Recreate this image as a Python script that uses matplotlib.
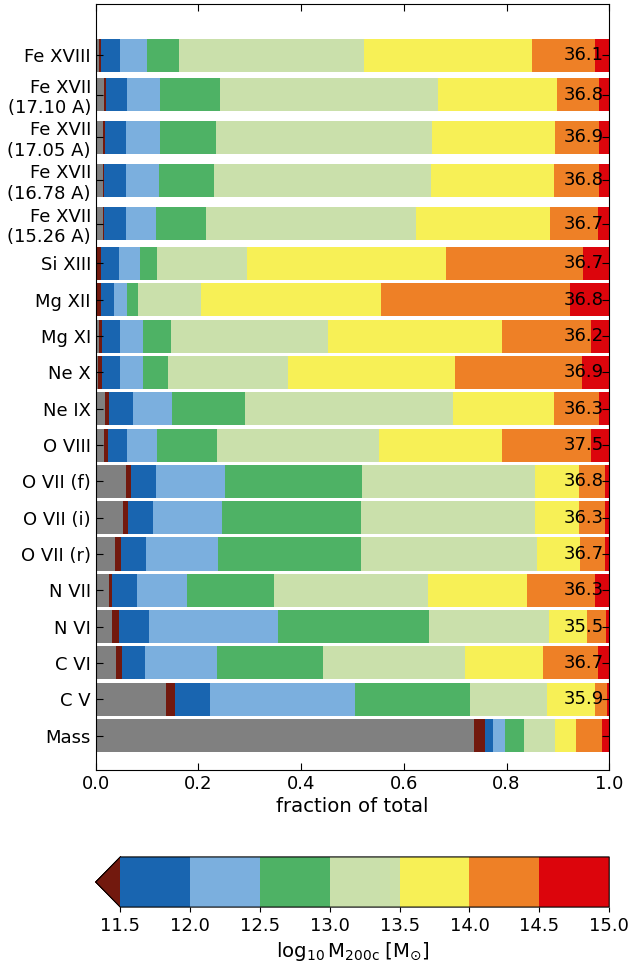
import numpy as np
import matplotlib
matplotlib.use("Agg")
import matplotlib.pyplot as plt
from matplotlib.colors import ListedColormap, BoundaryNorm
import matplotlib.cm as cm

# rows from top to bottom
lines = ["Fe XVIII", "Fe XVII\n(17.10 A)", "Fe XVII\n(17.05 A)", "Fe XVII\n(16.78 A)",
         "Fe XVII\n(15.26 A)", "Si XIII", "Mg XII", "Mg XI", "Ne X", "Ne IX", "O VIII",
         "O VII (f)", "O VII (i)", "O VII (r)", "N VII", "N VI", "C VI", "C V", "Mass"]

# cumulative edges: gray, <11.5, 11.5-12, 12-12.5, 12.5-13, 13-13.5, 13.5-14, 14-14.5 (rest 14.5-15)
edges = [
    [0.007, 0.011, 0.048, 0.0995, 0.163, 0.523, 0.849, 0.972],
    [0.0155, 0.019, 0.060, 0.126, 0.241, 0.667, 0.898, 0.980],
    [0.0134, 0.0175, 0.0585, 0.1244, 0.234, 0.654, 0.894, 0.980],
    [0.0134, 0.0168, 0.0585, 0.1224, 0.230, 0.652, 0.892, 0.980],
    [0.0134, 0.0168, 0.0585, 0.117, 0.2145, 0.623, 0.884, 0.978],
    [0.001, 0.0094, 0.0444, 0.0854, 0.119, 0.2946, 0.683, 0.949],
    [0.001, 0.0094, 0.035, 0.060, 0.0814, 0.2044, 0.556, 0.9233],
    [0.0067, 0.0114, 0.0464, 0.0915, 0.146, 0.4526, 0.792, 0.964],
    [0.0047, 0.0128, 0.0464, 0.0915, 0.140, 0.3746, 0.699, 0.947],
    [0.0188, 0.0249, 0.072, 0.148, 0.2905, 0.695, 0.892, 0.980],
    [0.0155, 0.0229, 0.060, 0.120, 0.236, 0.552, 0.792, 0.964],
    [0.0585, 0.068, 0.117, 0.2515, 0.519, 0.855, 0.941, 0.992],
    [0.0525, 0.0619, 0.111, 0.2455, 0.517, 0.855, 0.941, 0.992],
    [0.0383, 0.0484, 0.0975, 0.238, 0.517, 0.859, 0.943, 0.992],
    [0.0249, 0.031, 0.0794, 0.1775, 0.347, 0.6476, 0.839, 0.972],
    [0.031, 0.0444, 0.1029, 0.355, 0.6496, 0.882, 0.956, 0.993],
    [0.0403, 0.0504, 0.0955, 0.236, 0.443, 0.720, 0.872, 0.978],
    [0.1365, 0.154, 0.222, 0.504, 0.728, 0.878, 0.972, 0.995],
    [0.7357, 0.759, 0.7727, 0.798, 0.835, 0.8937, 0.935, 0.986],
]

# log10 of total for each line (none for Mass)
totals = ["36.1", "36.8", "36.9", "36.8", "36.7", "36.7", "36.8", "36.2", "36.9",
          "36.3", "37.5", "36.8", "36.3", "36.7", "36.3", "35.5", "36.7", "35.9", ""]

mass_bins = [11.5, 12.0, 12.5, 13.0, 13.5, 14.0, 14.5, 15.0]
bin_colors = ["#1965B0", "#7BAFDE", "#4EB265", "#CAE0AB", "#F7F056", "#EE8026", "#DC050C"]
under_color = "#72190E"
seg_colors = ["#808080", under_color] + bin_colors

plt.rcParams["font.size"] = 13

fig = plt.figure(figsize=(6.3, 9.65), dpi=100)
ax = fig.add_axes([0.152, 0.202, 0.815, 0.794])

# row positions: two-line labels get a bit more room
ypos = [18.73, 17.65, 16.47, 15.29, 14.10] + list(range(13, -1, -1))
n = len(lines)
for i in range(n):
    e = [0.0] + edges[i] + [1.0]
    for j in range(len(seg_colors)):
        ax.barh(ypos[i], e[j + 1] - e[j], left=e[j], height=0.91,
                color=seg_colors[j], linewidth=0)
    if totals[i]:
        ax.text(0.99, ypos[i], totals[i], ha="right", va="center", fontsize=13)

ax.set_xlim(0, 1)
ax.set_ylim(-0.95, 20.15)
ax.set_yticks(ypos)
ax.set_yticklabels(lines)
ax.set_xticks([0, 0.2, 0.4, 0.6, 0.8, 1.0])
ax.set_xticklabels(["0.0", "0.2", "0.4", "0.6", "0.8", "1.0"])
ax.tick_params(direction="in", top=True, right=True, length=5)
ax.set_xlabel("fraction of total", fontsize=14.2, labelpad=3)

cmap = ListedColormap(bin_colors)
cmap.set_under(under_color)
norm = BoundaryNorm(mass_bins, cmap.N)
cax = fig.add_axes([0.152, 0.060, 0.815, 0.052])
cb = fig.colorbar(cm.ScalarMappable(norm=norm, cmap=cmap), cax=cax,
                  orientation="horizontal", extend="min")
cb.set_ticks(mass_bins)
cb.set_ticklabels(["%.1f" % v for v in mass_bins])
cb.set_label(r"$\mathrm{log}_{10}\,\mathrm{M}_{\mathrm{200c}}\;[\mathrm{M}_{\odot}]$", fontsize=14.2)
cb.ax.xaxis.set_label_coords(0.4755, -0.66)

fig.savefig("out.png", dpi=100)
